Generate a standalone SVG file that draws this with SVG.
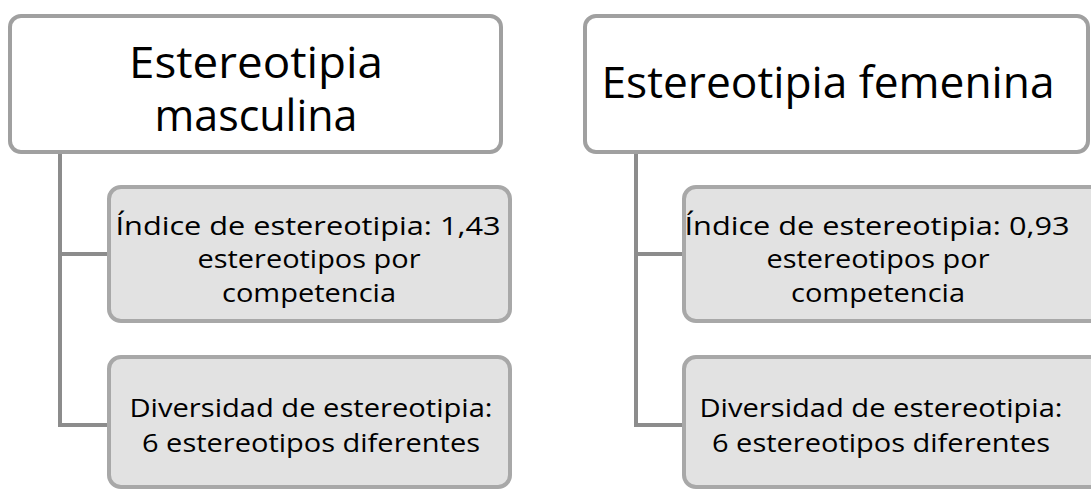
<svg xmlns="http://www.w3.org/2000/svg" width="1091" height="490" viewBox="0 0 1091 490">
<style>
.top{fill:#ffffff;stroke:#a0a0a0;stroke-width:4}
.child{fill:#e2e2e2;stroke:#a8a8a8;stroke-width:4}
.conn{fill:none;stroke:#8c8c8c;stroke-width:4}
text{font-family:"Open Sans","Noto Sans",sans-serif;fill:#000;text-anchor:middle;font-variant-ligatures:none}
.t1{font-size:44px}
.t2{font-size:26px}
</style>
<rect width="1091" height="490" fill="#ffffff"/>
<g id="connectors">
<path class="conn" d="M60 154 V427 M60 254 H109 M60 425 H109"/>
<path class="conn" d="M636 154 V427 M636 254 H684 M636 425 H684"/>
</g>
<g id="node-masculina">
<rect class="top" x="10" y="16" width="491" height="136" rx="11"/>
<text class="t1" x="256" y="78" textLength="254" lengthAdjust="spacingAndGlyphs">Estereotipia</text>
<text class="t1" x="256" y="131" textLength="203" lengthAdjust="spacingAndGlyphs">masculina</text>
</g>
<g id="node-m-indice">
<rect class="child" x="109" y="187" width="401" height="134" rx="12"/>
<text class="t2" x="308" y="235" textLength="385" lengthAdjust="spacingAndGlyphs">Índice de estereotipia: 1,43</text>
<text class="t2" x="309" y="268" textLength="223" lengthAdjust="spacingAndGlyphs">estereotipos por</text>
<text class="t2" x="309" y="302" textLength="174" lengthAdjust="spacingAndGlyphs">competencia</text>
</g>
<g id="node-m-diversidad">
<rect class="child" x="109" y="357" width="401" height="130" rx="12"/>
<text class="t2" x="311" y="417" textLength="363" lengthAdjust="spacingAndGlyphs">Diversidad de estereotipia:</text>
<text class="t2" x="311" y="452" textLength="338" lengthAdjust="spacingAndGlyphs">6 estereotipos diferentes</text>
</g>
<g id="node-femenina">
<rect class="top" x="585" y="16" width="503" height="136" rx="11"/>
<text class="t1" x="828" y="98" textLength="453" lengthAdjust="spacingAndGlyphs">Estereotipia femenina</text>
</g>
<g id="node-f-indice">
<rect class="child" x="684" y="187" width="420" height="134" rx="12"/>
<text class="t2" x="877" y="235" textLength="385" lengthAdjust="spacingAndGlyphs">Índice de estereotipia: 0,93</text>
<text class="t2" x="878" y="268" textLength="223" lengthAdjust="spacingAndGlyphs">estereotipos por</text>
<text class="t2" x="878" y="302" textLength="174" lengthAdjust="spacingAndGlyphs">competencia</text>
</g>
<g id="node-f-diversidad">
<rect class="child" x="684" y="357" width="420" height="130" rx="12"/>
<text class="t2" x="881" y="417" textLength="363" lengthAdjust="spacingAndGlyphs">Diversidad de estereotipia:</text>
<text class="t2" x="881" y="452" textLength="338" lengthAdjust="spacingAndGlyphs">6 estereotipos diferentes</text>
</g>
</svg>
